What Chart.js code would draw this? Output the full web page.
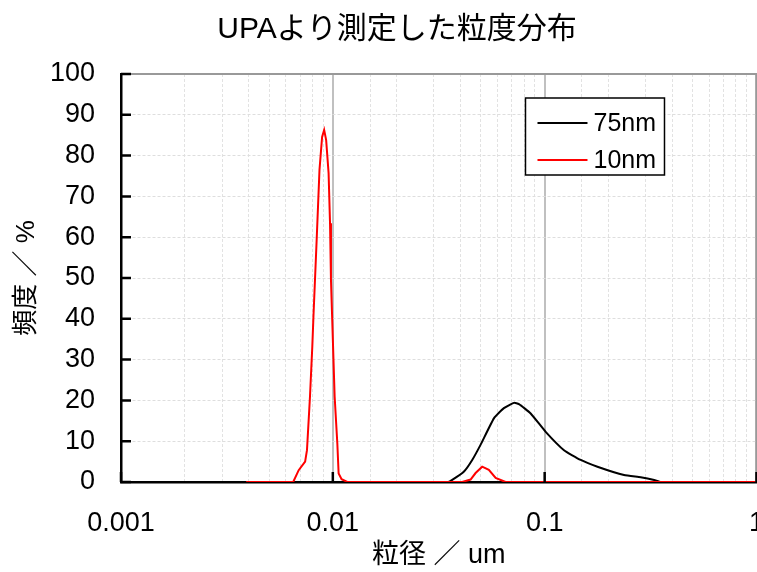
<!DOCTYPE html>
<html>
<head>
<meta charset="utf-8">
<script src="https://cdn.jsdelivr.net/npm/chart.js@4.4.1/dist/chart.umd.min.js"></script>
<style>
  html, body { margin: 0; padding: 0; overflow: hidden; background: #fff; }
  #wrap { position: relative; width: 789px; height: 572px; }
</style>
</head>
<body>
<div id="wrap"><canvas id="chart"></canvas></div>
<script>
const FONT = '"Liberation Sans", "Noto Sans CJK JP", sans-serif'

const chartTitle = 'UPAより測定した粒度分布'
const seriesLabels = ['75nm', '10nm']
const seriesColors = ['#000000', '#ff0000']

// 75nm の粒径 (um) と頻度 (%)
const size75 = [0.001, 0.035, 0.0366, 0.0415, 0.0455, 0.0498, 0.0576, 0.0642, 0.0716, 0.0756,
  0.0859, 0.1011, 0.1234, 0.148, 0.1775, 0.237, 0.284, 0.329, 0.354, 1]
const freq75 = [0, 0, 0.5, 2.5, 5.4, 9.1, 15.6, 18.1, 19.4, 19.1,
  16.8, 12.3, 7.8, 5.4, 3.75, 1.7, 1.15, 0.5, 0, 0]

// 10nm の粒径 (um) と頻度 (%)
const size10 = [0.0039, 0.0065, 0.0069, 0.0074, 0.00755, 0.0078, 0.0080, 0.0081, 0.0084, 0.00865,
  0.0089, 0.0091, 0.0093, 0.00955, 0.0097, 0.0098, 0.0102, 0.0105, 0.01065, 0.0110,
  0.0117, 0.0408, 0.0447, 0.0472, 0.0507, 0.0545, 0.0587, 0.0654, 1]
const freq10 = [0, 0, 2.9, 5.0, 7.8, 20.9, 33.2, 40.5, 60.1, 76.5,
  84.6, 86.3, 83.8, 75.7, 63.4, 49.5, 20.9, 9.5, 2.1, 0.7,
  0, 0, 0.6, 2.2, 3.75, 3.0, 1.0, 0, 0]

const xMin = 0.001
const xMax = 1
const yMin = 0
const yMax = 100
const yStep = 10

const isDecade = (v) => {
  if (!(v > 0)) return false
  const l = Math.log10(v)
  return Math.abs(l - Math.round(l)) < 1e-6
}

const toPoints = (xs, ys) => xs.map((x, i) => ({ x: x, y: ys[i] }))

// タイトル
const titlePlugin = {
  id: 'titleText',
  afterDraw(chart) {
    const ctx = chart.ctx
    ctx.save()
    ctx.font = '30px ' + FONT
    ctx.fillStyle = '#000'
    ctx.textAlign = 'center'
    ctx.textBaseline = 'middle'
    ctx.fillText(chartTitle, 397, 30)
    ctx.restore()
  },
}

// 枠線と内向きの目盛り
const framePlugin = {
  id: 'frame',
  afterDatasetsDraw(chart) {
    const { ctx, chartArea: a, scales } = chart
    ctx.save()
    ctx.strokeStyle = '#999999'
    ctx.lineWidth = 2
    ctx.beginPath()
    ctx.moveTo(a.left, a.top)
    ctx.lineTo(a.right, a.top)
    ctx.lineTo(a.right, a.bottom)
    ctx.stroke()

    ctx.strokeStyle = '#000'
    ctx.lineWidth = 2.5
    ctx.beginPath()
    for (let v = yMin; v <= yMax; v += yStep) {
      const py = scales.y.getPixelForValue(v)
      ctx.moveTo(a.left, py)
      ctx.lineTo(a.left + 10, py)
    }
    scales.x.ticks.forEach((t) => {
      if (!isDecade(t.value)) return
      const px = scales.x.getPixelForValue(t.value)
      ctx.moveTo(px, a.bottom)
      ctx.lineTo(px, a.bottom - 10)
    })
    ctx.stroke()
    ctx.restore()
  },
}

// 凡例
const legendPlugin = {
  id: 'legendBox',
  afterDraw(chart) {
    const ctx = chart.ctx
    const a = chart.chartArea
    const left = a.right - 231
    const top = 98
    ctx.save()
    ctx.fillStyle = '#fff'
    ctx.fillRect(left, top, 139, 77)
    ctx.strokeStyle = '#000'
    ctx.lineWidth = 1.5
    ctx.strokeRect(left, top, 139, 77)
    ctx.font = '25px ' + FONT
    ctx.textBaseline = 'middle'
    ctx.textAlign = 'left'
    chart.data.datasets.forEach((ds, i) => {
      const y = top + 25 + i * 37
      ctx.strokeStyle = ds.borderColor
      ctx.lineWidth = 2
      ctx.beginPath()
      ctx.moveTo(left + 12, y)
      ctx.lineTo(left + 62, y)
      ctx.stroke()
      ctx.fillStyle = '#000'
      ctx.fillText(ds.label, left + 68, y + 1)
    })
    ctx.restore()
  },
}

const ctx = document.getElementById('chart').getContext('2d')

new Chart(ctx, {
  type: 'line',
  data: {
    datasets: [
      {
        label: seriesLabels[0],
        data: toPoints(size75, freq75),
        borderColor: seriesColors[0],
        borderWidth: 2,
        pointRadius: 0,
        tension: 0.15,
        order: 1,
      },
      {
        label: seriesLabels[1],
        data: toPoints(size10, freq10),
        borderColor: seriesColors[1],
        borderWidth: 2,
        pointRadius: 0,
        tension: 0,
        order: 0,
      },
    ],
  },
  plugins: [titlePlugin, framePlugin, legendPlugin],
  options: {
    responsive: true,
    maintainAspectRatio: false,
    animation: false,
    layout: { padding: { top: 74, left: 0, right: 0, bottom: 0 } },
    plugins: {
      legend: { display: false },
      title: { display: false },
      tooltip: { enabled: false },
    },
    scales: {
      x: {
        type: 'logarithmic',
        min: xMin,
        max: xMax,
        afterFit: (s) => { s.height = 90 },
        grid: {
          drawTicks: false,
          color: (c) => (c.tick && isDecade(c.tick.value) ? '#c0c0c0' : '#e2e2e2'),
          lineWidth: (c) => (c.tick && isDecade(c.tick.value) ? 2 : 1),
        },
        border: {
          color: '#000',
          width: 2.5,
          dash: (c) => (c.tick && !isDecade(c.tick.value) ? [3, 2] : []),
        },
        ticks: {
          autoSkip: false,
          maxRotation: 0,
          padding: 25,
          color: '#000',
          font: { family: FONT, size: 27 },
          callback: (v) => (isDecade(v) ? String(v) : ''),
        },
        title: {
          display: true,
          text: '粒径 ／ um',
          color: '#000',
          font: { family: FONT, size: 27 },
          padding: { top: 0, bottom: 0 },
        },
      },
      y: {
        min: yMin,
        max: yMax,
        afterFit: (s) => { s.width = 121 },
        grid: { drawTicks: false, color: '#dedede', lineWidth: 1 },
        border: { color: '#000', width: 2.5, dash: [3, 2] },
        ticks: {
          stepSize: yStep,
          padding: 26,
          color: '#000',
          font: { family: FONT, size: 27 },
        },
        title: {
          display: true,
          text: '頻度 ／ %',
          color: '#000',
          font: { family: FONT, size: 26 },
          padding: { top: 11, bottom: 0 },
        },
      },
    },
  },
})
</script>
</body>
</html>
